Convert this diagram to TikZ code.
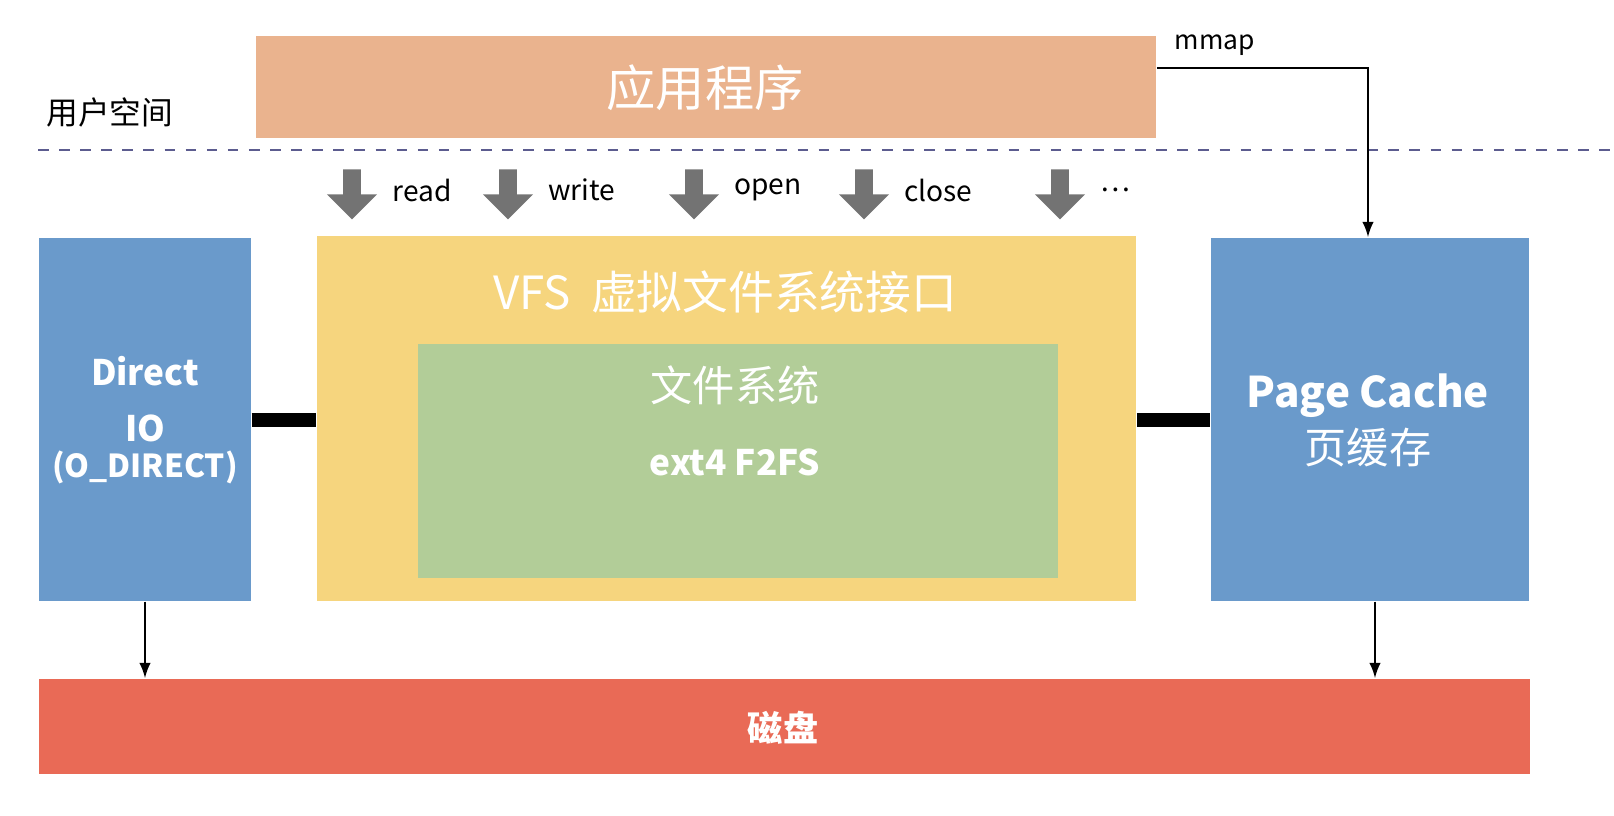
\documentclass[tikz,border=0pt]{standalone}
\usepackage{fontspec}
\setmainfont{Noto Sans CJK SC}
\usetikzlibrary{shapes.arrows}
\definecolor{appc}{HTML}{EAB38E}
\definecolor{bluec}{HTML}{6A9ACB}
\definecolor{vfsc}{HTML}{F6D57E}
\definecolor{fsc}{HTML}{B2CD98}
\definecolor{diskc}{HTML}{E96A56}
\definecolor{arrc}{HTML}{737373}
\tikzset{
  box/.style={draw=none, inner sep=0pt, anchor=north west},
  wt/.style={text=white, font=\fontsize{#1}{#1}\selectfont},
  op/.style={single arrow, fill=arrc, draw=none, shape border rotate=270,
    minimum width=0.5cm, minimum height=0.5cm, single arrow head extend=0.12cm, inner sep=0.06cm},
  oplbl/.style={font=\fontsize{8}{8}\selectfont, anchor=west},
  bar/.style={line width=0.14cm},
  thin/.style={-latex, line width=0.5pt}
}
\begin{document}%
\begin{tikzpicture}[x=0.01cm, y=-0.01cm]%
% Benutzerraum
\node[box, fill=appc, minimum width=9cm, minimum height=1.02cm] (app) at (255,35) {};
\node[wt=14] at (705,88) {应用程序};
\node[font=\fontsize{9}{9}\selectfont] (us) at (110,112) {用户空间};
\draw[dashed, color=arrc!80!blue, line width=0.8pt] (38,150) -- (1614,150);

% Operationen
\foreach \x/\t/\n in {352/read/rd, 508/write/wr, 694/open/op, 864/close/cl, 1060/{\ldots}/dt}
{%
  \node[op] (\n) at (\x,190) {};%
  \node[oplbl] at (\x+28,190) {\t};%
}

% Kästen
\node[box, fill=bluec, minimum width=2.12cm, minimum height=3.63cm] (dio) at (38,237) {};
\node[wt=12, align=center, font=\bfseries] at (145,420) {Direct\\[4pt]IO\\[-2pt]{\fontsize{9}{9}\selectfont(O\_DIRECT)}};
\node[box, fill=vfsc, minimum width=8.19cm, minimum height=3.65cm] (vfs) at (316,235) {};
\node[wt=13] at (725,292) {VFS\ \ 虚拟文件系统接口};
\node[box, fill=fsc, minimum width=6.4cm, minimum height=2.34cm] (fs) at (417,343) {};
\node[wt=12] at (735,385) {文件系统};
\node[wt=12, font=\bfseries] at (735,462) {ext4 F2FS};
\node[box, fill=bluec, minimum width=3.18cm, minimum height=3.63cm] (pc) at (1210,237) {};
\node[wt=12, align=center] at (1368,420) {\textbf{Page Cache}\\[2pt]页缓存};
\node[box, fill=diskc, minimum width=14.9cm, minimum height=0.95cm] (disk) at (38,678) {};
\node[wt=12, font=\bfseries] at (783,728) {磁盘};

% Verbindungen
\draw[bar] (dio.east |- 0,420) -- (vfs.west |- 0,420);
\draw[bar] (vfs.east |- 0,420) -- (pc.west |- 0,420);
\draw[thin] (dio.south -| 145,0) -- (disk.north -| 145,0);
\draw[thin] (pc.south -| 1375,0) -- (disk.north -| 1375,0);
\draw[thin] (app.east |- 0,68) -- (1368,68) -- (pc.north -| 1368,0);
\node[font=\fontsize{7.5}{7.5}\selectfont] at (1215,45) {mmap};
\pgfresetboundingbox
\useasboundingbox (0,0) rectangle (1614,816);
\end{tikzpicture}%
\end{document}
